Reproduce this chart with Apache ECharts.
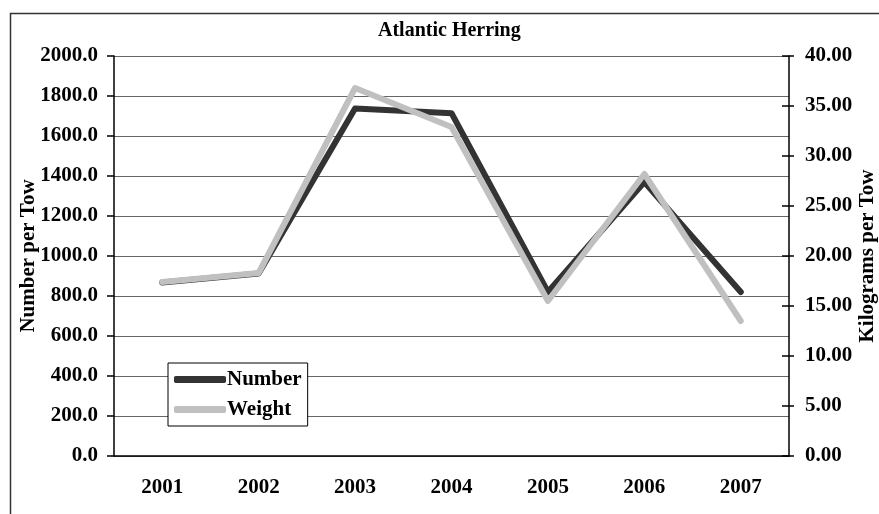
<!DOCTYPE html>
<html>
<head>
<meta charset="utf-8">
<script src="https://cdn.jsdelivr.net/npm/echarts@6/dist/echarts.min.js"></script>
<style>html,body{margin:0;padding:0;background:#fff}#c{width:879px;height:514px}</style>
</head>
<body>
<div id="c"></div>
<script>
var title = 'Atlantic Herring';
var years = ['2001', '2002', '2003', '2004', '2005', '2006', '2007'];
var numberPerTow = [868, 913, 1737, 1714, 820, 1370, 820];
var weightPerTow = [17.4, 18.3, 36.8, 32.9, 15.5, 28.2, 13.5];
var leftName = 'Number per Tow';
var rightName = 'Kilograms per Tow';

var FONT = "'Liberation Serif', 'Times New Roman', serif";
var txt = {fontFamily: FONT, fontWeight: 'bold', fontSize: 21, color: '#000'};

var chart = echarts.init(document.getElementById('c'), null, {renderer: 'canvas'});
chart.setOption({
  animation: false,
  backgroundColor: '#fff',
  title: {text: title, left: 378, top: 21, padding: 0, textStyle: Object.assign({}, txt, {fontSize: 20})},
  graphic: [{type: 'rect', left: 8, top: 11, shape: {width: 1000, height: 1000}, style: {fill: 'none', stroke: '#333', lineWidth: 1.5}, silent: true}],
  grid: {left: 114, right: 90, top: 56, bottom: 58, outerBoundsMode: 'none', containLabel: false},
  legend: {
    left: 168, top: 363, orient: 'vertical',
    itemWidth: 52, itemHeight: 7, itemGap: 9,
    padding: [6, 6, 6, 6],
    borderColor: '#000', borderWidth: 1, backgroundColor: '#fff',
    textStyle: Object.assign({}, txt, {padding: [0, 0, 0, -4]}),
    data: [{name: 'Number', icon: 'roundRect'}, {name: 'Weight', icon: 'roundRect'}]
  },
  xAxis: {
    type: 'category', data: years, boundaryGap: true,
    axisLine: {lineStyle: {color: '#000', width: 1.5}},
    axisTick: {length: 6, lineStyle: {color: '#000', width: 1.5}},
    axisLabel: Object.assign({}, txt, {margin: 21})
  },
  yAxis: [{
    type: 'value', min: 0, max: 2000, interval: 200, position: 'left',
    name: leftName, nameLocation: 'middle', nameGap: 75, nameRotate: 90, nameMoveOverlap: false,
    nameTextStyle: txt,
    axisLine: {show: true, lineStyle: {color: '#000', width: 1.5}},
    axisTick: {show: true, length: 7, lineStyle: {color: '#000', width: 1.5}},
    axisLabel: Object.assign({}, txt, {margin: 16, formatter: function (v) { return v.toFixed(1); }}),
    splitLine: {lineStyle: {color: '#666', width: 1.2}}
  }, {
    type: 'value', min: 0, max: 40, interval: 5, position: 'right',
    name: rightName, nameLocation: 'middle', nameGap: 68, nameRotate: 90, nameMoveOverlap: false,
    nameTextStyle: txt,
    axisLine: {show: true, lineStyle: {color: '#000', width: 1.5}},
    axisTick: {show: true, length: 5, lineStyle: {color: '#000', width: 1.5}},
    axisLabel: Object.assign({}, txt, {margin: 16, formatter: function (v) { return v.toFixed(2); }}),
    splitLine: {show: false}
  }, {
    type: 'value', min: 0, max: 40, interval: 5, position: 'right',
    axisLine: {show: false},
    axisTick: {show: true, inside: true, length: 7, lineStyle: {color: '#000', width: 1.5}},
    axisLabel: {show: false},
    splitLine: {show: false}
  }],
  series: [{
    name: 'Number', type: 'line', yAxisIndex: 0, data: numberPerTow,
    symbol: 'none', color: '#333333',
    lineStyle: {color: '#333333', width: 6, cap: 'round', join: 'round'}
  }, {
    name: 'Weight', type: 'line', yAxisIndex: 1, data: weightPerTow,
    symbol: 'none', color: '#c0c0c0',
    lineStyle: {color: '#c0c0c0', width: 6, cap: 'round', join: 'round'}
  }]
});
</script>
</body>
</html>
